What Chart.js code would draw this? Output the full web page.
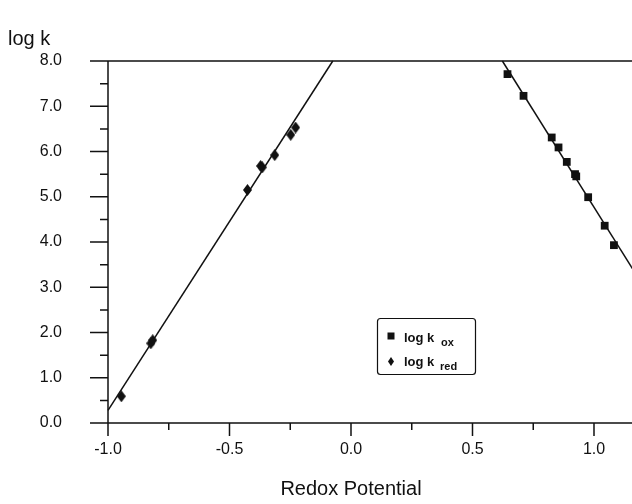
<!DOCTYPE html>
<html><head><meta charset="utf-8">
<script src="https://cdn.jsdelivr.net/npm/chart.js@4"></script>
<style>html,body{margin:0;padding:0;background:#fff;}</style>
</head><body>
<canvas id="c" width="632" height="504"></canvas>
<script>
// ---- data ----
const kredX = [-0.945, -0.824, -0.816, -0.426, -0.372, -0.365, -0.314, -0.248, -0.228];
const kredY = [0.59, 1.76, 1.83, 5.15, 5.68, 5.65, 5.92, 6.37, 6.53];
const koxX = [0.644, 0.710, 0.826, 0.854, 0.888, 0.922, 0.927, 0.976, 1.044, 1.082];
const koxY = [7.71, 7.23, 6.31, 6.09, 5.77, 5.50, 5.45, 4.99, 4.36, 3.93];
const redFitX = [-1.0, -0.075];
const redFitY = [0.28, 8.0];
const oxFitX = [0.623, 1.17];
const oxFitY = [8.0, 3.31];
const xTickValues = [-1.0, -0.5, 0.0, 0.5, 1.0];
const xMinorValues = [-0.75, -0.25, 0.25, 0.75];
const yTickValues = [0, 1, 2, 3, 4, 5, 6, 7, 8];
const yMinorValues = [0.5, 1.5, 2.5, 3.5, 4.5, 5.5, 6.5, 7.5];
const xTitle = 'Redox Potential';
const yTitle = 'log k';

const INK = '#111';
const FONT = '"Liberation Sans", Arial, Helvetica, sans-serif';

function toPts(xs, ys) { return xs.map((x, i) => ({x: x, y: ys[i]})); }
function diamond(w, h) {
  const c = document.createElement('canvas'); c.width = w; c.height = h;
  const g = c.getContext('2d'); g.fillStyle = INK;
  g.beginPath(); g.moveTo(w / 2, 0); g.lineTo(w, h / 2); g.lineTo(w / 2, h); g.lineTo(0, h / 2); g.closePath(); g.fill();
  return c;
}
const diamondImg = diamond(9, 12);

const framePlugin = {
  id: 'frame',
  afterDraw(chart) {
    const ctx = chart.ctx, a = chart.chartArea;
    const xs = chart.scales.x, ys = chart.scales.y;
    const R = chart.width;
    ctx.save();
    ctx.strokeStyle = INK; ctx.lineWidth = 1.5; ctx.lineCap = 'butt';
    ctx.beginPath();
    ctx.moveTo(a.left, a.top); ctx.lineTo(a.left, a.bottom);
    ctx.moveTo(a.left, a.bottom); ctx.lineTo(R, a.bottom);
    ctx.moveTo(a.left, a.top); ctx.lineTo(R, a.top);
    yTickValues.forEach(v => { const p = ys.getPixelForValue(v); ctx.moveTo(a.left - 18, p); ctx.lineTo(a.left, p); });
    yMinorValues.forEach(v => { const p = ys.getPixelForValue(v); ctx.moveTo(a.left - 8, p); ctx.lineTo(a.left, p); });
    xTickValues.forEach(v => { const p = xs.getPixelForValue(v); ctx.moveTo(p, a.bottom); ctx.lineTo(p, a.bottom + 13); });
    xMinorValues.forEach(v => { const p = xs.getPixelForValue(v); ctx.moveTo(p, a.bottom); ctx.lineTo(p, a.bottom + 7); });
    ctx.stroke();

    ctx.fillStyle = INK;
    ctx.textAlign = 'left'; ctx.textBaseline = 'alphabetic';
    ctx.font = '20px ' + FONT;
    ctx.fillText(yTitle, 8, 45);

    ctx.textAlign = 'center'; ctx.textBaseline = 'middle';
    ctx.font = '20px ' + FONT;
    ctx.fillText(xTitle, xs.getPixelForValue(0), 489);

    // legend
    ctx.textAlign = 'left'; ctx.textBaseline = 'alphabetic';
    const L = 377.5, T = 318.5, W = 98, H = 56;
    ctx.lineWidth = 1.2;
    ctx.beginPath();
    if (ctx.roundRect) ctx.roundRect(L, T, W, H, 3); else ctx.rect(L, T, W, H);
    ctx.stroke();
    ctx.fillRect(387.5, 332.5, 7, 7);
    ctx.drawImage(diamond(6, 9), 388, 357);
    ctx.font = 'bold 13px ' + FONT;
    ctx.fillText('log k', 404, 342);
    ctx.fillText('log k', 404, 366);
    ctx.font = 'bold 11px ' + FONT;
    ctx.fillText('ox', 441, 346);
    ctx.fillText('red', 440, 370);
    ctx.restore();
  }
};

new Chart(document.getElementById('c'), {
  type: 'scatter',
  data: {
    datasets: [
      { label: 'fit red', type: 'line', data: toPts(redFitX, redFitY), borderColor: INK, borderWidth: 1.5, pointRadius: 0, fill: false, tension: 0, clip: false },
      { label: 'fit ox', type: 'line', data: toPts(oxFitX, oxFitY), borderColor: INK, borderWidth: 1.5, pointRadius: 0, fill: false, tension: 0, clip: false },
      { label: 'log k ox', data: toPts(koxX, koxY), pointStyle: 'rect', pointRadius: 5.5, backgroundColor: INK, borderColor: INK, borderWidth: 0, clip: false },
      { label: 'log k red', data: toPts(kredX, kredY), pointStyle: diamondImg, pointRadius: 5, backgroundColor: INK, borderColor: INK, clip: false }
    ]
  },
  options: {
    responsive: false, animation: false, devicePixelRatio: 1,
    layout: { padding: { top: 61, left: 0, right: 0, bottom: 0 } },
    plugins: { legend: { display: false }, tooltip: { enabled: false } },
    scales: {
      x: {
        type: 'linear', min: -1.0, max: 1.1317,
        afterFit: s => { s.height = 81; s.paddingLeft = 0; s.paddingRight = 0; },
        afterBuildTicks: s => { s.ticks = xTickValues.map(v => ({value: v})); },
        ticks: { callback: v => v.toFixed(1), color: INK, font: { family: FONT, size: 16 }, padding: 4, maxRotation: 0, autoSkip: false },
        grid: { display: true, drawOnChartArea: false, drawTicks: true, tickLength: 13, color: 'transparent', tickColor: 'transparent' },
        border: { display: false }
      },
      y: {
        type: 'linear', min: 0, max: 8,
        afterFit: s => { s.width = 108; },
        afterBuildTicks: s => { s.ticks = yTickValues.map(v => ({value: v})); },
        ticks: { callback: v => v.toFixed(1), color: INK, font: { family: FONT, size: 16 }, padding: 28, autoSkip: false },
        grid: { display: true, drawOnChartArea: false, drawTicks: true, tickLength: 18, color: 'transparent', tickColor: 'transparent' },
        border: { display: false }
      }
    }
  },
  plugins: [framePlugin]
});
</script>
</body></html>
